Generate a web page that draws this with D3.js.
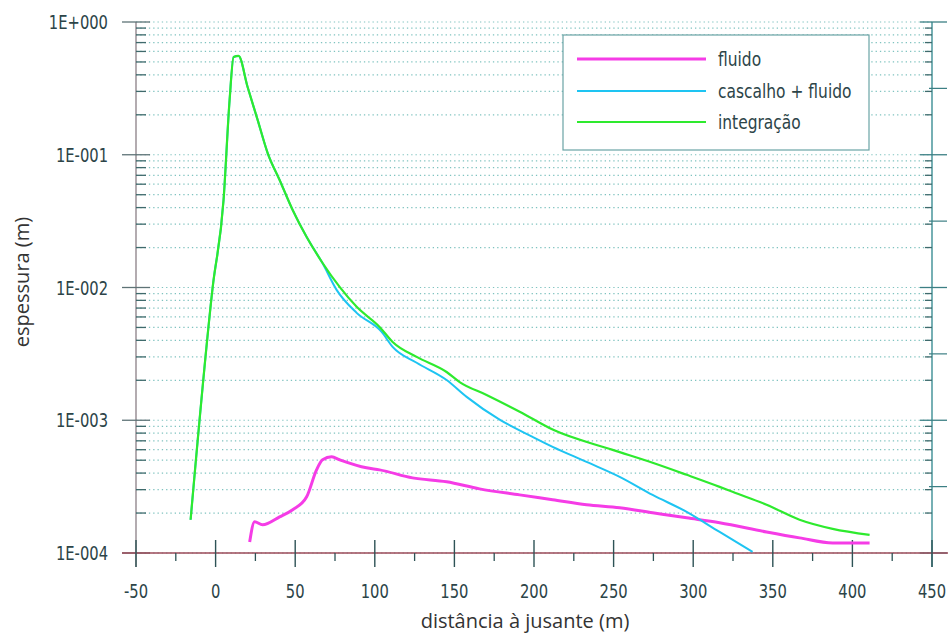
<!DOCTYPE html>
<html>
<head>
<meta charset="utf-8">
<script src="https://cdn.jsdelivr.net/npm/d3@7"></script>
<style>
	body { margin: 0; background: #fff; }
	svg { display: block; }
</style>
</head>
<body>
<svg id="chart"></svg>
<script>
let width = 948;
let height = 634;

// distância à jusante (m) / espessura (m)
const fluidoX = [21.4, 24.5, 29.5, 40.2, 48.4, 57.2, 63.4, 67.2, 72.9, 77.9, 94.8, 103.0, 123.7, 145.1, 165.8, 191.0, 211.7, 233.0, 253.8, 274.5, 295.9, 316.6, 346.1, 366.8, 387.6, 410.8];
const fluidoY = [1.21e-4, 1.72e-4, 1.63e-4, 1.87e-4, 2.12e-4, 2.65e-4, 4.23e-4, 5.04e-4, 5.3e-4, 5.04e-4, 4.38e-4, 4.23e-4, 3.68e-4, 3.44e-4, 3.04e-4, 2.74e-4, 2.52e-4, 2.31e-4, 2.19e-4, 2.01e-4, 1.84e-4, 1.69e-4, 1.44e-4, 1.3e-4, 1.19e-4, 1.19e-4];

const cascalhoX = [-15.7, -1.9, 5.0, 8.8, 11.3, 14.4, 20.1, 26.4, 32.7, 40.2, 48.4, 57.2, 67.2, 76.0, 88.6, 104.3, 111.2, 126.3, 145.1, 157.7, 178.4, 199.1, 211.7, 233.0, 253.8, 274.5, 295.9, 316.6, 337.3];
const cascalhoY = [1.78e-4, 9.9e-3, 0.0457, 0.259, 0.545, 0.555, 0.324, 0.183, 0.103, 0.0646, 0.0384, 0.024, 0.0152, 9.6e-3, 6.44e-3, 4.63e-3, 3.57e-3, 2.71e-3, 2.01e-3, 1.5e-3, 1.01e-3, 7.5e-4, 6.31e-4, 4.86e-4, 3.75e-4, 2.74e-4, 2.04e-4, 1.44e-4, 1.02e-4];

const integracaoX = [-15.7, -1.9, 5.0, 8.8, 11.3, 14.4, 20.1, 26.4, 32.7, 40.2, 48.4, 57.2, 67.2, 77.9, 88.6, 103.0, 111.2, 126.3, 145.1, 153.3, 170.2, 191.0, 211.7, 249.4, 274.5, 295.9, 316.6, 324.7, 346.1, 366.8, 387.6, 410.8];
const integracaoY = [1.78e-4, 9.9e-3, 0.0457, 0.259, 0.545, 0.555, 0.324, 0.183, 0.103, 0.0646, 0.0384, 0.024, 0.0153, 0.0101, 7.15e-3, 5.05e-3, 3.89e-3, 3.0e-3, 2.31e-3, 1.94e-3, 1.55e-3, 1.16e-3, 8.5e-4, 5.98e-4, 4.78e-4, 3.88e-4, 3.15e-4, 2.89e-4, 2.31e-4, 1.78e-4, 1.52e-4, 1.37e-4];

const seriesNames = ["fluido", "cascalho + fluido", "integração"];
const seriesColors = ["#f53ce6", "#1ec4f2", "#2eea2e"];

const xTicks = [-50, 0, 50, 100, 150, 200, 250, 300, 350, 400, 450];
const yTicks = [1, 1e-1, 1e-2, 1e-3, 1e-4];
const yTickLabels = ["1E+000", "1E-001", "1E-002", "1E-003", "1E-004"];

function draw() {
	const svg = d3.select("#chart");
	svg.attr("width", width).attr("height", height);

	const x = d3.scaleLinear().domain([-50, 450]).range([136, 932]);
	const y = d3.scaleLog().domain([1e-4, 1]).range([553, 22]);

	const tickFont = "'DejaVu Sans Condensed', sans-serif";
	const textColor = "#2c4448";

	// minor values 2..9 per decade
	var minors = [];
	for (let e = -4; e < 0; e++) {
		for (let m = 2; m <= 9; m++) minors.push(m * Math.pow(10, e));
	}

	// dotted grid
	svg.append("g")
		.selectAll("line")
		.data(minors.concat(yTicks))
		.enter()
		.append("line")
		.attr("x1", x(-50))
		.attr("x2", x(450))
		.attr("y1", (d) => y(d))
		.attr("y2", (d) => y(d))
		.style("stroke", "#4aaaa6")
		.style("stroke-width", 1.2)
		.style("stroke-dasharray", "1.3,3")
		.style("opacity", 0.7);

	// left axis
	svg.append("line")
		.attr("x1", x(-50)).attr("x2", x(-50))
		.attr("y1", y(1)).attr("y2", 567)
		.style("stroke", "#8a7f86")
		.style("stroke-width", 1.3);

	svg.append("g")
		.selectAll("line")
		.data(yTicks)
		.enter()
		.append("line")
		.attr("x1", 122).attr("x2", 150)
		.attr("y1", (d) => y(d)).attr("y2", (d) => y(d))
		.style("stroke", "#5e7376")
		.style("stroke-width", 1.3);

	svg.append("g")
		.selectAll("line")
		.data(minors)
		.enter()
		.append("line")
		.attr("x1", 136).attr("x2", 146)
		.attr("y1", (d) => y(d)).attr("y2", (d) => y(d))
		.style("stroke", "#3f6a6c")
		.style("stroke-width", 1.3);

	svg.append("g")
		.selectAll("text")
		.data(yTicks)
		.enter()
		.append("text")
		.attr("transform", (d) => "translate(108," + (y(d) + 7) + ") scale(0.82,1)")
		.attr("text-anchor", "end")
		.style("font-family", tickFont)
		.style("font-size", "20px")
		.style("fill", textColor)
		.text((d, i) => yTickLabels[i]);

	// right axis
	svg.append("line")
		.attr("x1", x(450)).attr("x2", x(450))
		.attr("y1", y(1)).attr("y2", 567)
		.style("stroke", "#3c8e94")
		.style("stroke-width", 1.4);

	svg.append("g")
		.selectAll("line")
		.data(yTicks)
		.enter()
		.append("line")
		.attr("x1", 920).attr("x2", 947)
		.attr("y1", (d) => y(d)).attr("y2", (d) => y(d))
		.style("stroke", "#3c7f84")
		.style("stroke-width", 1.3);

	svg.append("g")
		.selectAll("line")
		.data([Math.pow(10, -0.5), Math.pow(10, -1.5), Math.pow(10, -2.5), Math.pow(10, -3.5)])
		.enter()
		.append("line")
		.attr("x1", 929).attr("x2", 947)
		.attr("y1", (d) => y(d)).attr("y2", (d) => y(d))
		.style("stroke", "#3c7f84")
		.style("stroke-width", 1.2);

	svg.append("g")
		.selectAll("line")
		.data(minors)
		.enter()
		.append("line")
		.attr("x1", 925).attr("x2", 932)
		.attr("y1", (d) => y(d)).attr("y2", (d) => y(d))
		.style("stroke", "#3f6a6c")
		.style("stroke-width", 1.3);

	// bottom axis
	svg.append("line")
		.attr("x1", 122).attr("x2", 948)
		.attr("y1", y(1e-4)).attr("y2", y(1e-4))
		.style("stroke", "#9c4a58")
		.style("stroke-width", 1.5);

	svg.append("g")
		.selectAll("line")
		.data(xTicks)
		.enter()
		.append("line")
		.attr("x1", (d) => x(d)).attr("x2", (d) => x(d))
		.attr("y1", 540).attr("y2", 567)
		.style("stroke", "#2e5356")
		.style("stroke-width", 1.4);

	svg.append("g")
		.selectAll("line")
		.data(xTicks.slice(0, -1).map((d) => d + 25))
		.enter()
		.append("line")
		.attr("x1", (d) => x(d)).attr("x2", (d) => x(d))
		.attr("y1", 553).attr("y2", 561)
		.style("stroke", "#2e5356")
		.style("stroke-width", 1.3);

	svg.append("g")
		.selectAll("text")
		.data(xTicks)
		.enter()
		.append("text")
		.attr("transform", (d) => "translate(" + x(d) + ",598) scale(0.82,1)")
		.attr("text-anchor", "middle")
		.style("font-family", tickFont)
		.style("font-size", "20px")
		.style("fill", textColor)
		.text((d) => d);

	// axis titles
	svg.append("text")
		.attr("x", 525)
		.attr("y", 628)
		.attr("text-anchor", "middle")
		.style("font-family", "'Open Sans', sans-serif")
		.style("font-size", "20px")
		.style("fill", "#333")
		.text("distância à jusante (m)");

	svg.append("text")
		.attr("transform", "translate(29,282) rotate(-90)")
		.attr("text-anchor", "middle")
		.style("font-family", "'Open Sans', sans-serif")
		.style("font-size", "20px")
		.style("fill", "#333")
		.text("espessura (m)");

	// curves
	const series = [
		{ xs: fluidoX, ys: fluidoY, w: 3 },
		{ xs: cascalhoX, ys: cascalhoY, w: 2 },
		{ xs: integracaoX, ys: integracaoY, w: 2.2 },
	];

	const line = d3.line()
		.x((d) => x(d[0]))
		.y((d) => y(d[1]))
		.curve(d3.curveMonotoneX);

	svg.append("g")
		.selectAll("path")
		.data(series)
		.enter()
		.append("path")
		.attr("d", (s) => line(s.xs.map((v, i) => [v, s.ys[i]])))
		.style("fill", "none")
		.style("stroke", (s, i) => seriesColors[i])
		.style("stroke-width", (s) => s.w)
		.style("stroke-linejoin", "round");

	// legend
	const legend = svg.append("g");
	legend.append("rect")
		.attr("x", 563).attr("y", 35)
		.attr("width", 306).attr("height", 115)
		.style("fill", "white")
		.style("stroke", "#6aa3a5")
		.style("stroke-width", 1.2);

	const rowY = [59, 91, 122];
	legend.selectAll("line")
		.data(seriesNames)
		.enter()
		.append("line")
		.attr("x1", 577).attr("x2", 706)
		.attr("y1", (d, i) => rowY[i]).attr("y2", (d, i) => rowY[i])
		.style("stroke", (d, i) => seriesColors[i])
		.style("stroke-width", (d, i) => series[i].w);

	legend.selectAll("text")
		.data(seriesNames)
		.enter()
		.append("text")
		.attr("transform", (d, i) => "translate(718," + (rowY[i] + 7) + ") scale(0.86,1)")
		.style("font-family", tickFont)
		.style("font-size", "20px")
		.style("fill", textColor)
		.text((d) => d);
}

draw();
</script>
</body>
</html>
